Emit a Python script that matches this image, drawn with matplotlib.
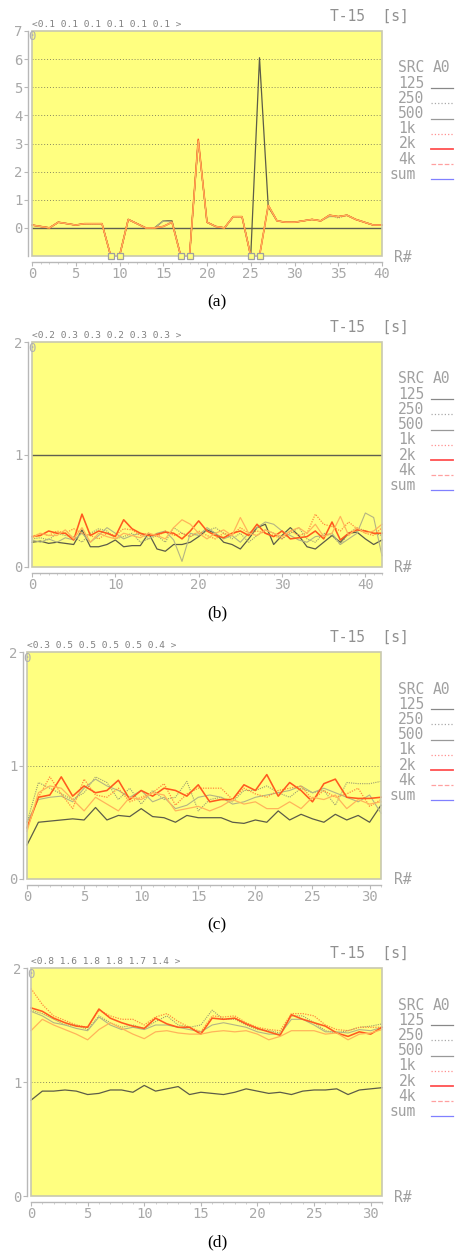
import matplotlib
matplotlib.use('Agg')
import matplotlib.pyplot as plt
from matplotlib.patches import Rectangle
from matplotlib.ticker import MultipleLocator
import numpy as np

W, H = 456, 1254

bands = ['125', '250', '500', '1k', '2k', '4k']
legend_labels = ['SRC', '125', '250', '500', '1k', '2k', '4k', 'sum']

# panel (a) - None marks a missing reading (drawn at the bottom edge)
a_125 = [0.1, 0.05, 0.0, 0.2, 0.15, 0.1, 0.15, 0.15, 0.15, None, None, 0.3, 0.15, 0.0, 0.0, 0.25, 0.25, None, None, 3.1,
         0.2, 0.05, 0.0, 0.4, 0.4, None, 6.05, 0.75, 0.25, 0.2, 0.2, 0.25, 0.3, 0.25, 0.45, 0.4, 0.45, 0.3, 0.2, 0.1, 0.1]
a_250 = [0.1, 0.05, 0.0, 0.2, 0.15, 0.1, 0.15, 0.15, 0.15, None, None, 0.3, 0.15, 0.0, 0.0, 0.05, 0.2, None, None, 3.1,
         0.2, 0.05, 0.0, 0.4, 0.4, None, None, 0.8, 0.25, 0.2, 0.2, 0.25, 0.3, 0.25, 0.45, 0.35, 0.45, 0.3, 0.2, 0.1, 0.1]
a_500 = [0.1, 0.05, 0.0, 0.2, 0.15, 0.1, 0.15, 0.15, 0.15, None, None, 0.3, 0.15, 0.0, 0.0, 0.25, 0.2, None, None, 3.1,
         0.2, 0.05, 0.0, 0.4, 0.4, None, None, 0.8, 0.25, 0.2, 0.2, 0.25, 0.3, 0.25, 0.4, 0.4, 0.45, 0.3, 0.2, 0.1, 0.1]
a_1k = [0.1, 0.05, 0.0, 0.2, 0.15, 0.1, 0.15, 0.15, 0.15, None, None, 0.3, 0.15, 0.0, 0.0, 0.05, 0.2, None, None, 3.1,
        0.2, 0.05, 0.0, 0.4, 0.4, None, None, 0.8, 0.25, 0.2, 0.2, 0.25, 0.3, 0.25, 0.45, 0.4, 0.45, 0.3, 0.2, 0.1, 0.1]
a_2k = [0.1, 0.05, 0.0, 0.2, 0.15, 0.1, 0.15, 0.15, 0.15, None, None, 0.3, 0.15, 0.0, 0.0, 0.05, 0.2, None, None, 3.15,
        0.2, 0.05, 0.0, 0.4, 0.4, None, None, 0.8, 0.25, 0.2, 0.2, 0.25, 0.3, 0.25, 0.45, 0.4, 0.45, 0.3, 0.2, 0.1, 0.1]
a_4k = [0.1, 0.05, 0.0, 0.2, 0.15, 0.1, 0.15, 0.15, 0.15, None, None, 0.3, 0.15, 0.0, 0.0, 0.05, 0.2, None, None, 3.1,
        0.2, 0.05, 0.0, 0.4, 0.4, None, None, 0.8, 0.25, 0.2, 0.2, 0.25, 0.3, 0.25, 0.45, 0.4, 0.45, 0.3, 0.2, 0.1, 0.1]

# panel (b)
b_125 = [0.22, 0.23, 0.21, 0.22, 0.21, 0.2, 0.33, 0.18, 0.18, 0.2, 0.24, 0.18, 0.19, 0.19, 0.3, 0.16, 0.14, 0.2, 0.2, 0.22, 0.27,
         0.33, 0.3, 0.22, 0.2, 0.16, 0.25, 0.35, 0.38, 0.2, 0.28, 0.35, 0.28, 0.18, 0.16, 0.22, 0.28, 0.22, 0.3, 0.31, 0.25, 0.2, 0.24]
b_250 = [0.25, 0.26, 0.24, 0.3, 0.28, 0.27, 0.22, 0.3, 0.34, 0.32, 0.25, 0.27, 0.3, 0.22, 0.25, 0.28, 0.22, 0.35, 0.3, 0.27, 0.3,
         0.32, 0.35, 0.3, 0.25, 0.3, 0.22, 0.28, 0.33, 0.3, 0.25, 0.3, 0.35, 0.25, 0.22, 0.3, 0.28, 0.2, 0.3, 0.35, 0.32, 0.3, 0.28]
b_500 = [0.24, 0.22, 0.25, 0.22, 0.26, 0.24, 0.3, 0.22, 0.28, 0.35, 0.3, 0.25, 0.28, 0.3, 0.25, 0.3, 0.32, 0.24, 0.05, 0.3, 0.28,
         0.35, 0.3, 0.25, 0.28, 0.22, 0.3, 0.35, 0.4, 0.38, 0.32, 0.28, 0.24, 0.22, 0.27, 0.28, 0.3, 0.2, 0.25, 0.3, 0.48, 0.44, 0.1]
b_1k = [0.27, 0.3, 0.28, 0.32, 0.3, 0.34, 0.3, 0.28, 0.25, 0.3, 0.28, 0.34, 0.33, 0.28, 0.3, 0.27, 0.32, 0.28, 0.3, 0.27, 0.32,
        0.28, 0.25, 0.3, 0.28, 0.35, 0.3, 0.32, 0.3, 0.28, 0.25, 0.32, 0.28, 0.3, 0.47, 0.38, 0.36, 0.32, 0.4, 0.34, 0.3, 0.28, 0.35]
b_2k = [0.27, 0.28, 0.32, 0.3, 0.3, 0.24, 0.47, 0.28, 0.32, 0.3, 0.27, 0.42, 0.34, 0.3, 0.28, 0.29, 0.31, 0.3, 0.25, 0.32, 0.41,
        0.32, 0.28, 0.26, 0.3, 0.32, 0.28, 0.38, 0.3, 0.27, 0.32, 0.25, 0.26, 0.27, 0.32, 0.25, 0.4, 0.24, 0.3, 0.33, 0.32, 0.3, 0.3]
b_4k = [0.26, 0.3, 0.28, 0.28, 0.33, 0.25, 0.35, 0.22, 0.3, 0.27, 0.25, 0.3, 0.28, 0.26, 0.3, 0.28, 0.25, 0.35, 0.42, 0.38, 0.3,
        0.25, 0.3, 0.33, 0.28, 0.44, 0.3, 0.28, 0.33, 0.3, 0.27, 0.32, 0.35, 0.3, 0.38, 0.27, 0.3, 0.45, 0.28, 0.35, 0.3, 0.32, 0.38]

# panel (c)
c_125 = [0.3, 0.5, 0.51, 0.52, 0.53, 0.52, 0.63, 0.52, 0.56, 0.55, 0.62, 0.55, 0.54, 0.5, 0.56, 0.54, 0.54,
         0.54, 0.5, 0.49, 0.52, 0.5, 0.6, 0.52, 0.57, 0.53, 0.5, 0.57, 0.52, 0.56, 0.5, 0.65]
c_250 = [0.5, 0.85, 0.8, 0.75, 0.7, 0.76, 0.9, 0.85, 0.7, 0.8, 0.66, 0.78, 0.7, 0.72, 0.86, 0.6, 0.7,
         0.72, 0.68, 0.78, 0.78, 0.82, 0.76, 0.72, 0.8, 0.76, 0.78, 0.65, 0.85, 0.84, 0.84, 0.86]
c_500 = [0.5, 0.7, 0.72, 0.73, 0.68, 0.8, 0.88, 0.82, 0.78, 0.72, 0.78, 0.68, 0.72, 0.62, 0.65, 0.72, 0.74,
         0.72, 0.66, 0.68, 0.72, 0.74, 0.76, 0.78, 0.82, 0.76, 0.8, 0.76, 0.72, 0.68, 0.74, 0.58]
c_1k = [0.45, 0.72, 0.9, 0.75, 0.62, 0.88, 0.74, 0.72, 0.8, 0.68, 0.72, 0.76, 0.84, 0.65, 0.75, 0.8, 0.8,
        0.8, 0.7, 0.8, 0.75, 0.72, 0.78, 0.8, 0.82, 0.7, 0.78, 0.72, 0.75, 0.8, 0.64, 0.7]
c_2k = [0.45, 0.72, 0.74, 0.9, 0.73, 0.82, 0.76, 0.78, 0.87, 0.7, 0.78, 0.73, 0.8, 0.78, 0.73, 0.83, 0.68,
        0.7, 0.7, 0.83, 0.78, 0.92, 0.73, 0.85, 0.78, 0.68, 0.84, 0.88, 0.72, 0.71, 0.71, 0.72]
c_4k = [0.42, 0.76, 0.82, 0.8, 0.7, 0.6, 0.72, 0.66, 0.6, 0.72, 0.7, 0.76, 0.74, 0.6, 0.62, 0.64, 0.6,
        0.64, 0.7, 0.66, 0.68, 0.62, 0.62, 0.68, 0.62, 0.72, 0.7, 0.74, 0.62, 0.7, 0.66, 0.68]

# panel (d)
d_125 = [0.84, 0.92, 0.92, 0.93, 0.92, 0.89, 0.9, 0.93, 0.93, 0.91, 0.97, 0.92, 0.94, 0.96, 0.89, 0.91, 0.9,
         0.89, 0.91, 0.94, 0.92, 0.9, 0.91, 0.89, 0.92, 0.93, 0.93, 0.94, 0.89, 0.93, 0.94, 0.95]
d_250 = [1.63, 1.6, 1.55, 1.5, 1.5, 1.46, 1.58, 1.52, 1.48, 1.5, 1.47, 1.53, 1.58, 1.5, 1.48, 1.5, 1.63,
         1.55, 1.55, 1.5, 1.46, 1.45, 1.43, 1.58, 1.58, 1.52, 1.45, 1.43, 1.45, 1.48, 1.49, 1.51]
d_500 = [1.62, 1.58, 1.52, 1.5, 1.47, 1.45, 1.57, 1.5, 1.46, 1.48, 1.46, 1.5, 1.5, 1.48, 1.46, 1.44, 1.5,
         1.52, 1.5, 1.48, 1.44, 1.42, 1.42, 1.55, 1.55, 1.5, 1.44, 1.44, 1.43, 1.46, 1.45, 1.48]
d_1k = [1.82, 1.68, 1.58, 1.54, 1.5, 1.48, 1.63, 1.58, 1.55, 1.55, 1.5, 1.57, 1.6, 1.53, 1.48, 1.44, 1.58,
        1.57, 1.58, 1.52, 1.48, 1.46, 1.45, 1.6, 1.6, 1.58, 1.5, 1.46, 1.45, 1.48, 1.48, 1.48]
d_2k = [1.65, 1.62, 1.56, 1.52, 1.49, 1.48, 1.64, 1.56, 1.52, 1.49, 1.47, 1.56, 1.51, 1.48, 1.48, 1.42, 1.56,
        1.55, 1.56, 1.51, 1.47, 1.44, 1.41, 1.59, 1.55, 1.52, 1.49, 1.43, 1.4, 1.44, 1.42, 1.48]
d_4k = [1.45, 1.55, 1.5, 1.46, 1.42, 1.37, 1.46, 1.52, 1.47, 1.42, 1.38, 1.44, 1.45, 1.43, 1.42, 1.42, 1.44,
        1.45, 1.44, 1.45, 1.42, 1.37, 1.4, 1.45, 1.45, 1.45, 1.42, 1.43, 1.37, 1.42, 1.43, 1.46]

headers = ['<0.1 0.1 0.1 0.1 0.1 0.1 >', '<0.2 0.3 0.3 0.2 0.3 0.3 >',
           '<0.3 0.5 0.5 0.5 0.5 0.4 >', '<0.8 1.6 1.8 1.8 1.7 1.4 >']
captions = ['(a)', '(b)', '(c)', '(d)']

YELLOW = '#ffff80'
line_styles = {
    '125': dict(color='#5c5c48', lw=0.9, ls='-'),
    '250': dict(color='#9c9c70', lw=0.8, ls=(0, (1, 1))),
    '500': dict(color='#b4b484', lw=0.8, ls='-'),
    '1k': dict(color='#ff8a3c', lw=0.9, ls=(0, (1, 1))),
    '2k': dict(color='#ff5a1e', lw=1.15, ls='-'),
    '4k': dict(color='#ffb45a', lw=0.9, ls='-'),
}
legend_colors = ['#888888', '#aaaaaa', '#999999', '#ff9090', '#ff5050', '#ffa0a0', '#8080ff']
legend_ls = ['-', ':', '-', ':', '-', '--', '-']

fig = plt.figure(figsize=(W / 100, H / 100), dpi=100)
fig.patch.set_facecolor('white')


def px_axes(l, t, r, b):
    return fig.add_axes([l / W, 1 - b / H, (r - l) / W, (b - t) / H])


def fy(y):
    return 1 - y / H


def fx(x):
    return x / W


panels = [
    dict(box=(32, 31, 382, 256), ylim=(-1, 7), yticks=range(0, 8), xmax=40, major=5,
         data=[a_125, a_250, a_500, a_1k, a_2k, a_4k], grid=[1, 2, 3, 4, 5, 6], solid=[0]),
    dict(box=(32, 342, 382, 567), ylim=(0, 2), yticks=[0, 1, 2], xmax=42, major=10,
         data=[b_125, b_250, b_500, b_1k, b_2k, b_4k], grid=[], solid=[1]),
    dict(box=(27, 652, 381, 879), ylim=(0, 2), yticks=[0, 1, 2], xmax=31, major=5,
         data=[c_125, c_250, c_500, c_1k, c_2k, c_4k], grid=[1], solid=[]),
    dict(box=(31, 968, 382, 1196), ylim=(0, 2), yticks=[0, 1, 2], xmax=31, major=5,
         data=[d_125, d_250, d_500, d_1k, d_2k, d_4k], grid=[1], solid=[]),
]

for i, p in enumerate(panels):
    l, t, r, b = p['box']
    ax = px_axes(l, t, r, b)
    ax.set_facecolor(YELLOW)
    ax.set_xlim(0, p['xmax'])
    ax.set_ylim(*p['ylim'])
    ax.add_patch(Rectangle((0, 0), 1, 1, transform=ax.transAxes, fill=False,
                           ec='#c8c8b0', lw=1.2, zorder=5, clip_on=False))
    for s in ['top', 'right']:
        ax.spines[s].set_visible(False)
    ax.spines['left'].set_position(('outward', 3))
    ax.spines['bottom'].set_position(('outward', 4))
    for s in ['left', 'bottom']:
        ax.spines[s].set_color('#b8b8b8')
        ax.spines[s].set_linewidth(1.0)
    ax.set_yticks(list(p['yticks']))
    ax.set_yticklabels([str(v) for v in p['yticks']])
    ax.xaxis.set_major_locator(MultipleLocator(p['major']))
    ax.xaxis.set_minor_locator(MultipleLocator(1))
    ax.tick_params(axis='both', colors='#b8b8b8', labelcolor='#a8a8a8', labelsize=10, length=3, width=0.8, pad=1)
    ax.tick_params(axis='x', which='minor', length=1.5, colors='#c8c8c8')
    for lab in ax.get_xticklabels() + ax.get_yticklabels():
        lab.set_family('DejaVu Sans Mono')

    for g in p['grid']:
        ax.axhline(g, color='#8a8a60', lw=0.7, ls=(0, (1, 2)), zorder=1)
    for g in p['solid']:
        ax.axhline(g, color='#606050', lw=1.0, zorder=1)

    x = np.arange(p['xmax'] + 1)
    bottom = p['ylim'][0]
    for band, vals in zip(bands, p['data']):
        y = np.array([bottom if v is None else v for v in vals], dtype=float)
        ax.plot(x[:len(y)], y, zorder=3, clip_on=False, **line_styles[band])
    # squares for missing readings
    miss = sorted({k for vals in p['data'] for k, v in enumerate(vals) if v is None})
    if miss:
        ax.plot(miss, [bottom] * len(miss), 's', ms=5, mfc='#ffff80', mec='#a0a0a0', mew=0.9,
                zorder=6, clip_on=False)

    # header texts
    fig.text(fx(l), fy(t - 2), headers[i], fontsize=6.8, color='#808080', family='DejaVu Sans Mono',
             va='bottom', ha='left')
    fig.text(fx(l - 4), fy(t + 6), '0', fontsize=9, color='#b0b0b0', family='DejaVu Sans Mono',
             va='center', ha='left')
    fig.text(fx(330), fy(t - 15), 'T-15  [s]', fontsize=10.5, color='#909090', family='DejaVu Sans Mono',
             va='center', ha='left')
    fig.text(fx(394), fy(b + 1), 'R#', fontsize=10.5, color='#a0a0a0', family='DejaVu Sans Mono',
             va='center', ha='left')

    # legend column
    ly0 = t + 37
    fig.text(fx(424), fy(ly0), 'SRC', fontsize=10.5, color='#a0a0a0', family='DejaVu Sans Mono',
             va='center', ha='right')
    fig.text(fx(433), fy(ly0), 'A0', fontsize=10.5, color='#a0a0a0', family='DejaVu Sans Mono',
             va='center', ha='left')
    for k, lab in enumerate(legend_labels[1:]):
        yy = ly0 + 15.2 * (k + 1)
        fig.text(fx(424 if k < 3 else 416), fy(yy), lab, fontsize=10.5, color='#a0a0a0',
                 family='DejaVu Sans Mono', va='center', ha='right')
        fig.add_artist(plt.Line2D([fx(431), fx(453)], [fy(yy + 5), fy(yy + 5)],
                                  color=legend_colors[k], ls=legend_ls[k], lw=1.3 if lab == '2k' else 0.9))

    fig.text(fx(217), fy(b + 46), captions[i], fontsize=12.5, family='Liberation Serif',
             color='black', ha='center', va='center')

plt.savefig('out.png', dpi=100, facecolor='white')
plt.close()
